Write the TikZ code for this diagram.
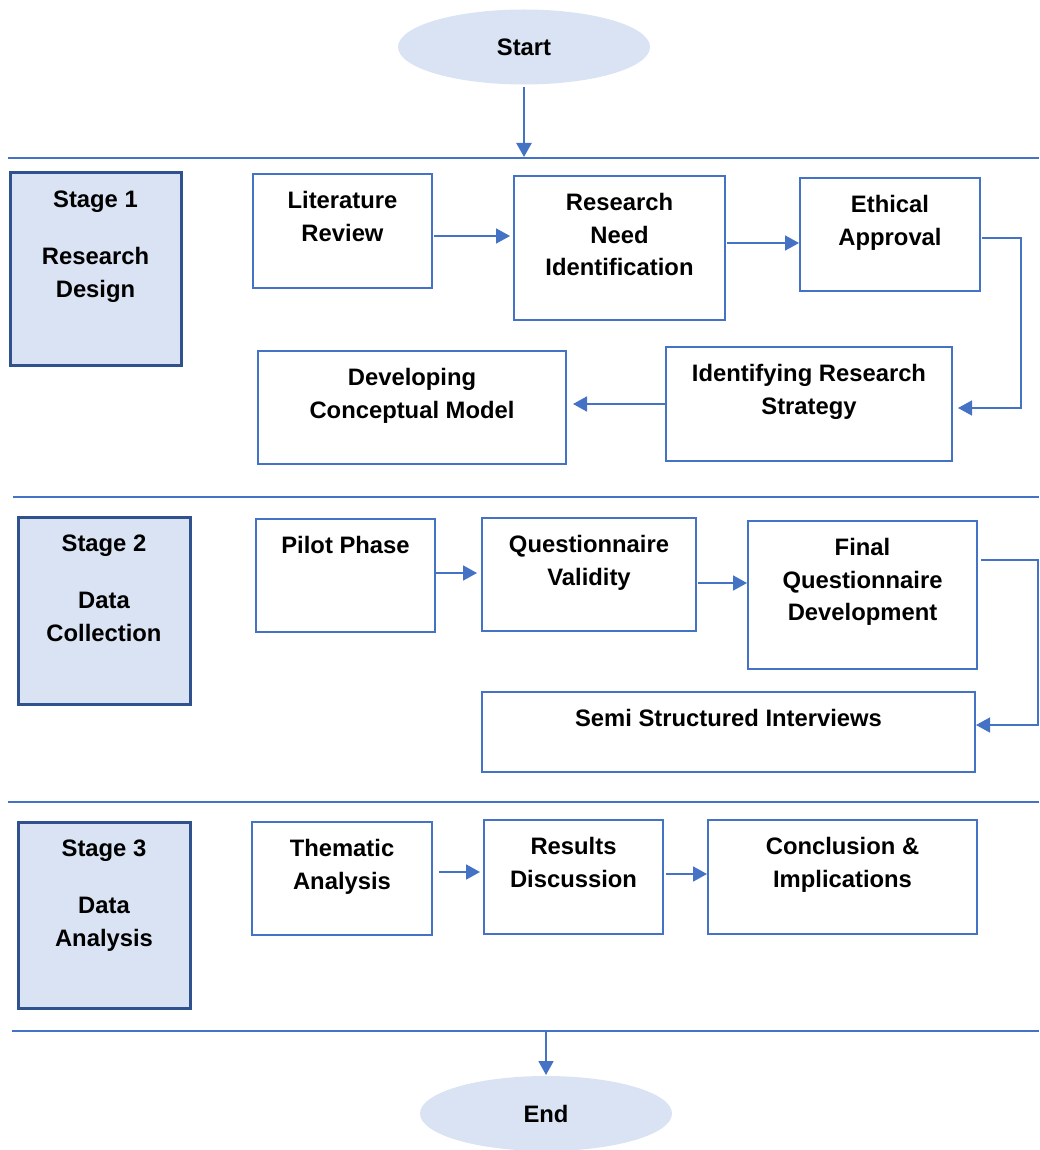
\documentclass[tikz,border=0pt]{standalone}
\usepackage{fontspec}
\setmainfont{Liberation Sans}
\usetikzlibrary{arrows.meta,shapes.geometric}
\definecolor{flowblue}{HTML}{4472C4}
\definecolor{stageedge}{HTML}{2F528F}
\definecolor{paleblue}{HTML}{DAE3F3}

% box with its caption set from the top edge: [style]{name}{x1}{y1}{x2}{y2}{text}
\newcommand\flowbox[7][box]{%
  \node[#1,minimum width={#5-#3},minimum height={#6-#4}] (#2) at ({(#3+#5)/2},{(#4+#6)/2}) {};
  \node[boxtext] (#2-t) at ({(#3+#5)/2},{#4+17.5}) {#7};}

\begin{document}
\begin{tikzpicture}[x=1pt,y=-1pt,
  box/.style={draw=flowblue,line width=2.8pt,rectangle,inner sep=0pt,outer sep=0pt},
  stagebox/.style={draw=stageedge,fill=paleblue,line width=3pt,rectangle,inner sep=0pt,outer sep=0pt},
  boxtext/.style={anchor=north,inner sep=0pt,align=center,font=\fontsize{23.8}{32.5}\selectfont\bfseries},
  terminal/.style={ellipse,fill=paleblue,inner sep=0pt,outer sep=0pt,minimum width=252pt,minimum height=75pt,
    font=\fontsize{23.8}{32.5}\selectfont\bfseries},
  divider/.style={flowblue,line width=2.6pt},
  flow/.style={flowblue,line width=1.8pt,-{Triangle[length=14pt,width=15pt]}},
  elbow/.style={flowblue,line width=1.4pt,-{Triangle[length=14pt,width=15pt]}},
]
\useasboundingbox (0,0) rectangle (1039,1150);

% terminals
\node[terminal] (start) at (524,47) {Start};
\node[terminal] (end) at (546,1113.5) {End};

% stage dividers
\draw[divider] (8,158) -- (1039,158);
\draw[divider] (13,497) -- (1039,497);
\draw[divider] (8,802) -- (1039,802);
\draw[divider] (12,1031) -- (1039,1031);
\coordinate (topline) at (524,157);
\coordinate (bottomline) at (546,1031);

% stage 1
\flowbox[stagebox]{s1}{10}{173}{181}{365}{Stage 1\\[25pt]Research\\Design}
\flowbox{lr}{253}{174}{432}{288}{Literature\\Review}
\flowbox{rni}{514}{176}{725}{320}{Research\\Need\\Identification}
\flowbox{ea}{800}{178}{980}{291}{Ethical\\Approval}
\flowbox{irs}{666}{347}{952}{461}{Identifying Research\\Strategy}
\flowbox{dcm}{258}{351}{566}{464}{Developing\\Conceptual Model}

% stage 2
\flowbox[stagebox]{s2}{18}{517}{190}{704}{Stage 2\\[25pt]Data\\Collection}
\flowbox{pp}{256}{519}{435}{632}{Pilot Phase}
\flowbox{qv}{482}{518}{696}{631}{Questionnaire\\Validity}
\flowbox{fqd}{748}{521}{977}{669}{Final\\Questionnaire\\Development}
\flowbox{ssi}{482}{692}{975}{772}{Semi Structured Interviews}

% stage 3
\flowbox[stagebox]{s3}{18}{822}{190}{1008}{Stage 3\\[25pt]Data\\Analysis}
\flowbox{ta}{252}{822}{432}{935}{Thematic\\Analysis}
\flowbox{rd}{484}{820}{663}{934}{Results\\Discussion}
\flowbox{ci}{708}{820}{977}{934}{Conclusion \&\\Implications}

% connectors
\draw[flow,line width=2.4pt,shorten <=3pt] (start.south) -- (topline);
\draw[flow,shorten >=1pt] (bottomline) -- (end.north);

\draw[flow,shorten <=2pt,shorten >=4pt] (lr.east |- 0,236) -- (rni.west |- 0,236);
\draw[flow,shorten <=2pt,shorten >=1pt] (rni.east |- 0,243) -- (ea.west |- 0,243);
\draw[elbow,shorten <=2pt,shorten >=6pt] (ea.east |- 0,238) -- ++(41,0) |- (irs.east |- 0,408);
\draw[flow,shorten >=7pt] (irs.west |- 0,404) -- (dcm.east |- 0,404);

\draw[flow,shorten <=1pt,shorten >=5pt] (pp.east |- 0,573) -- (qv.west |- 0,573);
\draw[flow,shorten <=2pt,shorten >=1pt] (qv.east |- 0,583) -- (fqd.west |- 0,583);
\draw[elbow,shorten <=4pt,shorten >=1pt] (fqd.east |- 0,560) -- ++(61,0) |- (ssi.east |- 0,725);

\draw[flow,shorten <=7pt,shorten >=4pt] (ta.east |- 0,872) -- (rd.west |- 0,872);
\draw[flow,shorten <=3pt,shorten >=1pt] (rd.east |- 0,874) -- (ci.west |- 0,874);
\end{tikzpicture}
\end{document}
